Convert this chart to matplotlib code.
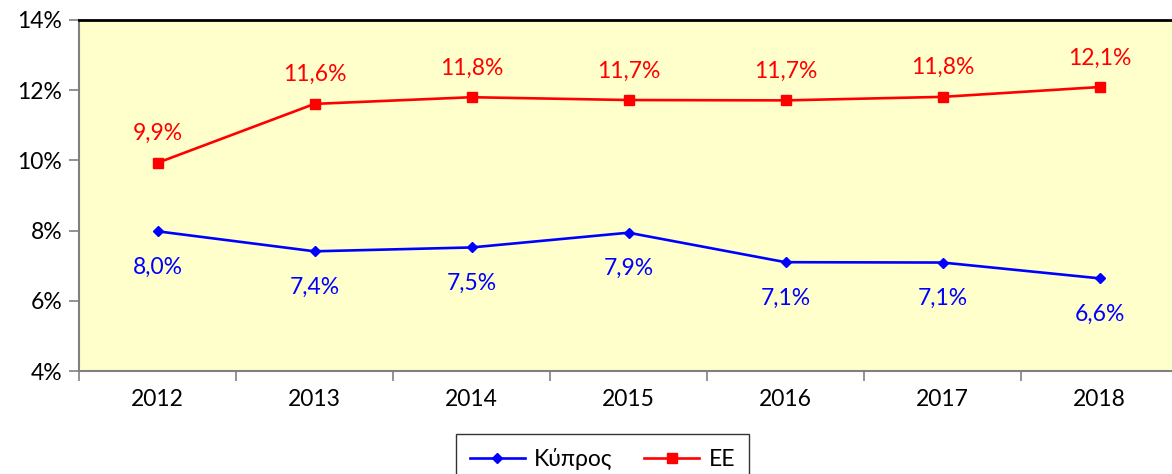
from matplotlib import pyplot as plt
from matplotlib.ticker import FuncFormatter
import numpy as np

plt.rcParams['font.family'] = ['Lato', 'DejaVu Sans']

years = ['2012', '2013', '2014', '2015', '2016', '2017', '2018']
kypros = [7.98, 7.41, 7.52, 7.94, 7.10, 7.09, 6.64]
ee = [9.93, 11.61, 11.80, 11.72, 11.71, 11.81, 12.09]

x = np.arange(len(years))

fig = plt.figure(figsize = (11.72, 4.74), dpi = 100)
ax = fig.add_axes([79 / 1172, 1 - 371 / 474, 1099 / 1172, 351 / 474])
ax.set_facecolor('#FFFFCC')

ax.plot(x, kypros, color = '#0000FF', lw = 1.9, marker = 'D', ms = 5, label = 'Κύπρος')
ax.plot(x, ee, color = '#FF0000', lw = 1.9, marker = 's', ms = 7, label = 'ΕΕ')

for i in x:
    ax.annotate(f'{kypros[i]:.1f}%'.replace('.', ','), (i, kypros[i]), xytext = (0, -26),
                textcoords = 'offset points', ha = 'center', va = 'center', color = '#0000FF', fontsize = 16.5)
    ax.annotate(f'{ee[i]:.1f}%'.replace('.', ','), (i, ee[i]), xytext = (0, 21),
                textcoords = 'offset points', ha = 'center', va = 'center', color = '#FF0000', fontsize = 16.5)

ax.set_xlim(-0.5, 6.5)
ax.set_ylim(4, 14)
ax.set_yticks([4, 6, 8, 10, 12, 14])
ax.yaxis.set_major_formatter(FuncFormatter(lambda v, p: f'{v:.0f}%'))
ax.set_xticks(np.arange(-0.5, 7, 1))
ax.set_xticklabels([])
ax.set_xticks(x, minor = True)
ax.set_xticklabels(years, minor = True)
ax.tick_params(axis = 'x', which = 'major', length = 7, color = '#808080', width = 1.2)
ax.tick_params(axis = 'x', which = 'minor', length = 0, pad = 13, labelsize = 16.5)
ax.tick_params(axis = 'y', length = 7, color = '#808080', width = 1.2, labelsize = 16.5, pad = 5)

for s in ['left', 'bottom']:
    ax.spines[s].set_color('#808080')
    ax.spines[s].set_linewidth(1.5)
ax.spines['top'].set_color('black')
ax.spines['top'].set_linewidth(2)
ax.spines['right'].set_visible(False)

# legend box runs past the bottom edge, as in the original
fig.legend(loc = 'center', bbox_to_anchor = (0.514, 1 - 459 / 474), ncol = 2, fontsize = 16.5,
           frameon = True, fancybox = False, edgecolor = 'black', handlelength = 2.4,
           columnspacing = 1.4, borderpad = 0.6, borderaxespad = 0, handletextpad = 0.4)

plt.savefig('out.png', dpi = 100)
